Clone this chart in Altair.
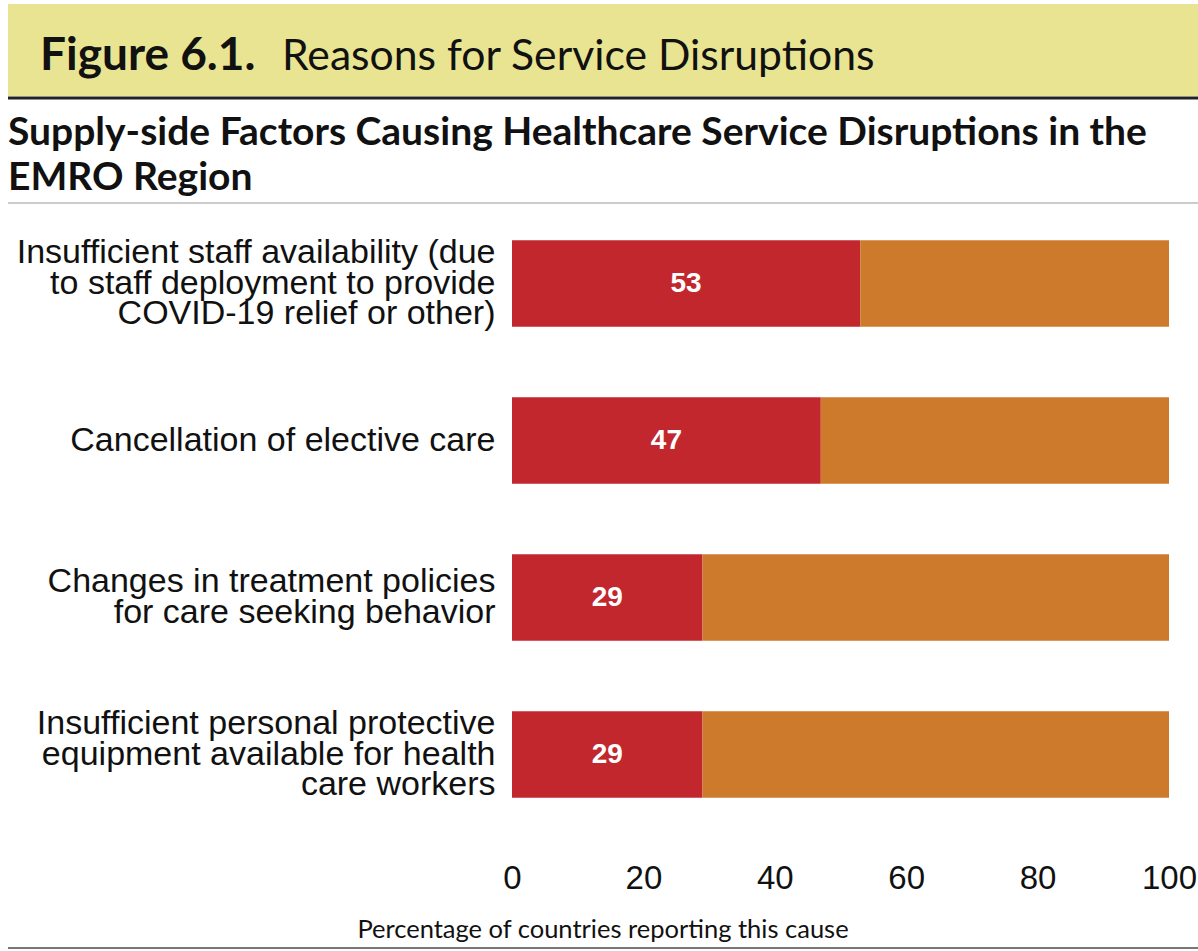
import altair as alt
import pandas as pd

categories = [
    "Insufficient staff availability (due|to staff deployment to provide|COVID-19 relief or other)",
    "Cancellation of elective care",
    "Changes in treatment policies|for care seeking behavior",
    "Insufficient personal protective|equipment available for health|care workers",
]
reported = [53, 47, 29, 29]
not_reported = [47, 53, 71, 71]
x_ticks = [0, 20, 40, 60, 80, 100]

RED = "#c1272d"
ORANGE = "#cd7a2d"

rows = []
for c, r, n in zip(categories, reported, not_reported):
    rows.append({"cat": c, "seg": "Reported", "value": r, "ord": 0})
    rows.append({"cat": c, "seg": "Not reported", "value": n, "ord": 1})
df = pd.DataFrame(rows)
lab = pd.DataFrame({"cat": categories, "value": reported})

W, H = 657, 628
LH = 30.5

y_enc = alt.Y("cat:N", sort=categories, title=None,
              scale=alt.Scale(paddingInner=0.45, paddingOuter=0.225),
              axis=alt.Axis(labelExpr="split(datum.value, '|')", labelFont="Liberation Sans",
                            labelFontSize=34, labelLineHeight=LH, labelColor="#111111",
                            labelPadding=17, ticks=False, domain=False, labelLimit=600,
                            labelOffset={"condition": [
                                {"test": "length(split(datum.value, '|')) == 3", "value": -LH},
                                {"test": "length(split(datum.value, '|')) == 2", "value": -LH / 2}],
                                "value": 0}))

bars = alt.Chart(df).mark_bar().encode(
    y=y_enc,
    x=alt.X("value:Q", stack="zero", scale=alt.Scale(domain=[0, 100], nice=False),
            title=None,
            axis=alt.Axis(values=x_ticks, labelFont="Liberation Sans", labelFontSize=33,
                          labelColor="#111111", labelPadding=29, ticks=False, domain=False,
                          grid=False, labelFlush=False)),
    color=alt.Color("seg:N", scale=alt.Scale(domain=["Reported", "Not reported"],
                                            range=[RED, ORANGE]), legend=None),
    order=alt.Order("ord:Q"),
)

labels = alt.Chart(lab).transform_calculate(mid="datum.value / 2").mark_text(
    font="Liberation Sans", fontSize=28, fontWeight="bold", color="white", baseline="middle"
).encode(
    y=alt.Y("cat:N", sort=categories),
    x=alt.X("mid:Q"),
    text=alt.Text("value:Q"),
)

one = alt.Data(values=[{}])
band = alt.Chart(one).mark_rect(color="#e8e492").encode(
    x=alt.value(-504), x2=alt.value(686), y=alt.value(-201), y2=alt.value(-109))
dark_line = alt.Chart(one).mark_rule(color="#222222", strokeWidth=3).encode(
    x=alt.value(-504), x2=alt.value(686), y=alt.value(-107))
grey_line = alt.Chart(one).mark_rule(color="#cccccc", strokeWidth=2).encode(
    x=alt.value(-504), x2=alt.value(686), y=alt.value(-2))
bottom_line = alt.Chart(one).mark_rule(color="#777777", strokeWidth=2).encode(
    x=alt.value(-504), x2=alt.value(686), y=alt.value(743))

title_bold = alt.Chart(one).mark_text(
    text="Figure 6.1.", font="Lato", fontSize=46, fontWeight="bold", color="#111111",
    align="left", baseline="alphabetic").encode(x=alt.value(-472), y=alt.value(-135))
title_reg = alt.Chart(one).mark_text(
    text="Reasons for Service Disruptions", font="Lato", fontSize=42.7, color="#111111",
    align="left", baseline="alphabetic").encode(x=alt.value(-230), y=alt.value(-135))
sub1 = alt.Chart(one).mark_text(
    text="Supply-side Factors Causing Healthcare Service Disruptions in the", font="Lato",
    fontSize=39, fontWeight="bold", color="#111111", align="left",
    baseline="alphabetic").encode(x=alt.value(-504), y=alt.value(-60))
sub2 = alt.Chart(one).mark_text(
    text="EMRO Region", font="Lato", fontSize=39, fontWeight="bold", color="#111111",
    align="left", baseline="alphabetic").encode(x=alt.value(-504), y=alt.value(-15))
xtitle = alt.Chart(one).mark_text(
    text="Percentage of countries reporting this cause", font="Lato", fontSize=25.5,
    color="#111111", align="center", baseline="alphabetic").encode(
    x=alt.value(91), y=alt.value(733))

chart = alt.layer(
    band, dark_line, grey_line, bottom_line, title_bold, title_reg, sub1, sub2, xtitle,
    bars, labels
).properties(
    width=W, height=H,
    background="white",
    autosize=alt.AutoSizeParams(type="none"),
    padding={"left": 512, "top": 205, "right": 29, "bottom": 118},
).configure_view(stroke="transparent", strokeWidth=0)

chart.save("out.html", embed_options={"renderer": "svg", "actions": False})
